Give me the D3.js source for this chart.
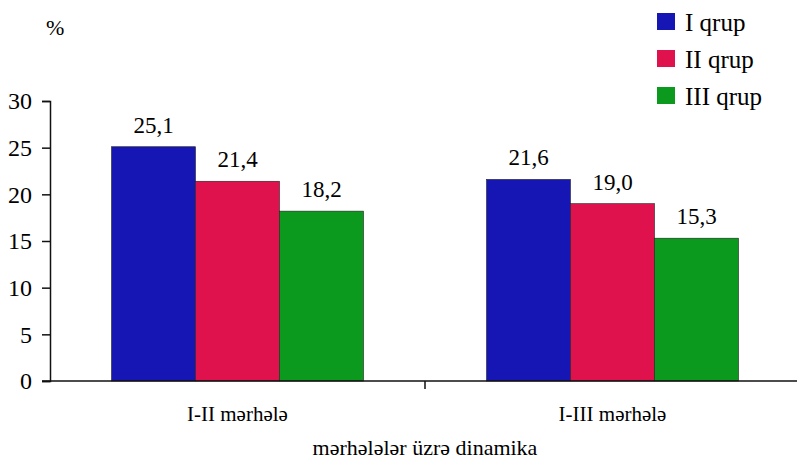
<!DOCTYPE html>
<html>
<head>
<meta charset="utf-8">
<script src="https://cdn.jsdelivr.net/npm/d3@7"></script>
<style>
body { margin: 0; background: #fff; }
</style>
</head>
<body>
<div class="chart"></div>
<script>
const stages = ["I-II mərhələ", "I-III mərhələ"];
const groups = ["I qrup", "II qrup", "III qrup"];
const group1 = [25.1, 21.6];
const group2 = [21.4, 19.0];
const group3 = [18.2, 15.3];
const yTicks = [0, 5, 10, 15, 20, 25, 30];
const colors = ["#1616b4", "#e0124e", "#0c9a1e"];

const series = [group1, group2, group3];
const table = stages.map((s, i) => ({stage: s, values: series.map(v => v[i])}));

const width = 797, height = 463;
const margin = {left: 50, right: 0, top: 101, bottom: 82};
const serif = "Liberation Serif";

const svg = d3.select(".chart").append("svg")
    .attr("width", width)
    .attr("height", height)
    .attr("font-family", serif);

const x = d3.scaleBand()
    .domain(stages)
    .range([margin.left, 800]);

const xInner = d3.scaleBand()
    .domain(groups)
    .range([0, 252]);

const y = d3.scaleLinear()
    .domain([0, 30])
    .range([height - margin.bottom, margin.top]);

// bars
const g = svg.selectAll(".stage")
    .data(table)
    .enter()
    .append("g")
    .attr("transform", d => "translate(" + (x(d.stage) + (x.bandwidth() - 252) / 2) + ",0)");

g.selectAll("rect")
    .data(d => d.values.map((v, i) => ({group: groups[i], value: v, i: i})))
    .enter()
    .append("rect")
    .attr("x", d => xInner(d.group))
    .attr("y", d => y(d.value))
    .attr("width", xInner.bandwidth())
    .attr("height", d => y(0) - y(d.value))
    .attr("fill", d => colors[d.i])
    .attr("stroke", "#222")
    .attr("stroke-width", 0.6);

g.selectAll(".lbl")
    .data(d => d.values.map((v, i) => ({group: groups[i], value: v})))
    .enter()
    .append("text")
    .attr("class", "lbl")
    .attr("x", d => xInner(d.group) + xInner.bandwidth() / 2)
    .attr("y", d => y(d.value) - 14)
    .attr("text-anchor", "middle")
    .attr("font-family", serif)
    .attr("font-size", "23px")
    .text(d => d.value.toFixed(1).replace(".", ","));

// y axis
const yAxis = svg.append("g")
    .attr("transform", "translate(" + margin.left + ",0)")
    .call(d3.axisLeft(y).tickValues(yTicks).tickSize(8).tickPadding(10));
yAxis.attr("font-family", serif).attr("font-size", "24px");
yAxis.select(".domain").attr("stroke", "#111").attr("stroke-width", 1.5);
yAxis.selectAll(".tick line").attr("stroke", "#111").attr("stroke-width", 1.5);
yAxis.selectAll("text")
    .attr("font-family", serif)
    .attr("font-size", "24px")
    .attr("fill", "#000");

// x axis
const xAxis = svg.append("g")
    .attr("transform", "translate(0," + y(0) + ")");
xAxis.append("line")
    .attr("x1", margin.left - 8).attr("x2", 800)
    .attr("stroke", "#111").attr("stroke-width", 1.5);
xAxis.append("line")
    .attr("x1", x(stages[1])).attr("x2", x(stages[1]))
    .attr("y1", 0).attr("y2", 8)
    .attr("stroke", "#111").attr("stroke-width", 1.5);
xAxis.selectAll(".cat")
    .data(stages)
    .enter()
    .append("text")
    .attr("class", "cat")
    .attr("x", d => x(d) + x.bandwidth() / 2)
    .attr("y", 40)
    .attr("text-anchor", "middle")
    .attr("font-family", serif)
    .attr("font-size", "21px")
    .text(d => d);

svg.append("text")
    .attr("x", 425)
    .attr("y", 455)
    .attr("text-anchor", "middle")
    .attr("font-family", serif)
    .attr("font-size", "22px")
    .text("mərhələlər üzrə dinamika");

svg.append("text")
    .attr("x", 46)
    .attr("y", 35)
    .attr("font-family", serif)
    .attr("font-size", "22px")
    .text("%");

// legend
const legend = svg.selectAll(".legend")
    .data(groups)
    .enter()
    .append("g")
    .attr("transform", (d, i) => "translate(657," + (13 + i * 37) + ")");
legend.append("rect")
    .attr("width", 18).attr("height", 17)
    .attr("fill", (d, i) => colors[i]);
legend.append("text")
    .attr("x", 28)
    .attr("y", 18)
    .attr("font-family", serif)
    .attr("font-size", "25px")
    .text(d => d);
</script>
</body>
</html>
